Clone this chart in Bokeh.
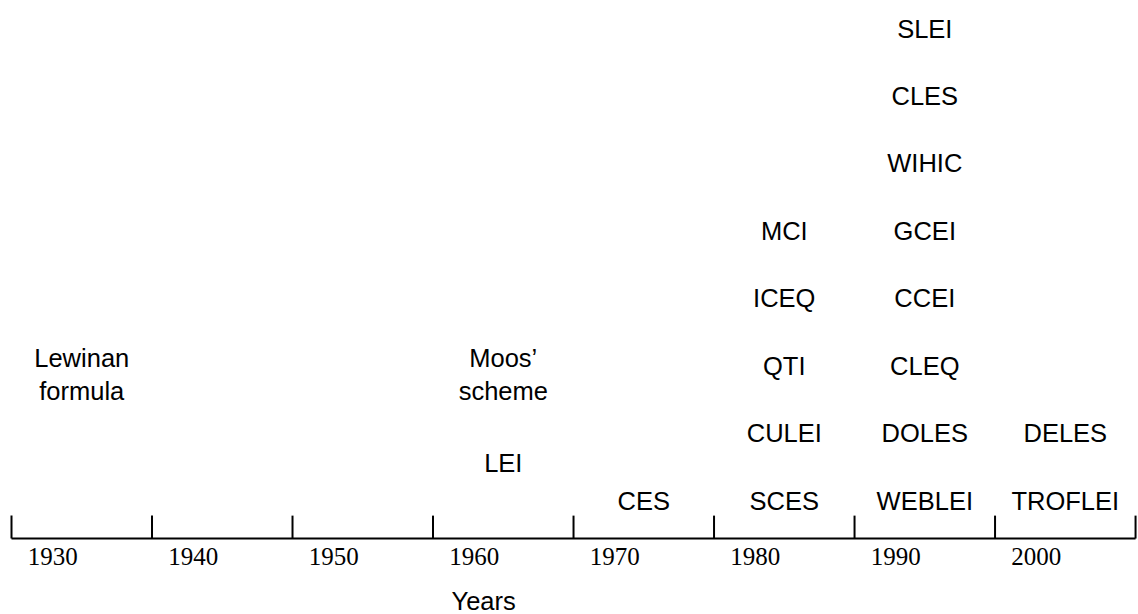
from bokeh.plotting import figure
from bokeh.models import Range1d, ColumnDataSource
from bokeh.core.properties import value
from bokeh.embed import file_html
from bokeh.resources import INLINE

# ---- data ----
boundary_years = [1925, 1935, 1945, 1955, 1965, 1975, 1985, 1995, 2005]
decade_years = [1930, 1940, 1950, 1960, 1970, 1980, 1990, 2000]
decade_labels = ["1930", "1940", "1950", "1960", "1970", "1980", "1990", "2000"]

instruments = [
    "Lewinan\nformula",
    "Moos\u2019\nscheme", "LEI",
    "CES",
    "SCES", "CULEI", "QTI", "ICEQ", "MCI",
    "WEBLEI", "DOLES", "CLEQ", "CCEI", "GCEI", "WIHIC", "CLES", "SLEI",
    "TROFLEI", "DELES",
]
instrument_decade = [
    1930,
    1960, 1960,
    1970,
    1980, 1980, 1980, 1980, 1980,
    1990, 1990, 1990, 1990, 1990, 1990, 1990, 1990,
    2000, 2000,
]
instrument_level = [
    1.87,
    1.87, 0.55,
    0,
    0, 1, 2, 3, 4,
    0, 1, 2, 3, 4, 5, 6, 7,
    0, 1,
]
axis_title = "Years"
axis_title_year = 1958.6

# ---- layout constants (in level units) ----
AXIS_Y = -0.564
TICK_LEN = 0.34
YEAR_LABEL_Y = AXIS_Y - 0.26
TITLE_Y = AXIS_Y - 0.92

p = figure(width=1138, height=614,
           x_range=Range1d(1924.217, 2005.21), y_range=Range1d(-1.691, 7.418),
           output_backend="svg", toolbar_location=None,
           x_axis_location=None, y_axis_location=None,
           min_border_left=0, min_border_right=0,
           min_border_top=0, min_border_bottom=0)
p.xgrid.visible = False
p.ygrid.visible = False
p.outline_line_color = None
p.background_fill_color = "white"
p.border_fill_color = "white"

# timeline axis line and decade ticks
n = len(boundary_years)
p.segment(x0=[boundary_years[0]], y0=[AXIS_Y], x1=[boundary_years[-1]], y1=[AXIS_Y],
          line_width=2, line_color="black")
p.segment(x0=boundary_years, y0=[AXIS_Y] * n, x1=boundary_years, y1=[AXIS_Y + TICK_LEN] * n,
          line_width=2, line_color="black")

# instrument names
src = ColumnDataSource(dict(x=instrument_decade, y=instrument_level, text=instruments))
p.text(x="x", y="y", text="text", source=src,
       text_font=value("Liberation Sans"), text_font_size="25.5px",
       text_align="center", text_baseline="middle", text_color="black",
       text_line_height=1.2)

# decade labels
ysrc = ColumnDataSource(dict(x=decade_years, y=[YEAR_LABEL_Y] * len(decade_years), text=decade_labels))
p.text(x="x", y="y", text="text", source=ysrc, x_offset=-29,
       text_font=value("Liberation Serif"), text_font_size="25px",
       text_align="center", text_baseline="middle", text_color="black")

# axis title
p.text(x=[axis_title_year], y=[TITLE_Y], text=[axis_title],
       text_font=value("Liberation Sans"), text_font_size="25.5px",
       text_align="center", text_baseline="middle", text_color="black")

open("out.html", "w").write(file_html(p, INLINE))
